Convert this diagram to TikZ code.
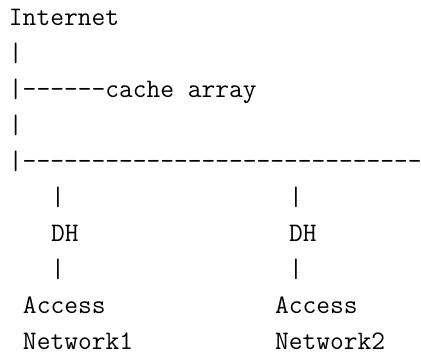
\documentclass[tikz,border=0pt]{standalone}
\usepackage{fontspec}
\begin{document}
\begin{tikzpicture}[x=1pt,y=-1pt,
  tt/.style={anchor=base west,inner sep=0pt,outer sep=0pt,text depth=0pt,
    font=\fontsize{26.7}{32}\selectfont\ttfamily},
  ]
% page frame
\useasboundingbox (0,0) rectangle (421,354);
% column width and row pitch of the monospaced grid
\def\cw{14.0}
\def\rh{36.1}
\def\xo{9}
\def\yo{25}
% trunk
\node[tt] (inet)  at (\xo+0*\cw, \yo+0*\rh) {Internet};
\node[tt] (bar1)  at (\xo+0*\cw, \yo+1*\rh) {|};
\node[tt] (cache) at (\xo+0*\cw, \yo+2*\rh) {|------cache array};
\node[tt] (bar2)  at (\xo+0*\cw, \yo+3*\rh) {|};
\node[tt] (bus)   at (\xo+0*\cw, \yo+4*\rh) {|-----------------------------};
% left branch
\node[tt] (la)    at (\xo+3*\cw, \yo+5*\rh) {|};
\node[tt] (ldh)   at (\xo+3*\cw, \yo+6*\rh) {DH};
\node[tt] (lb)    at (\xo+3*\cw, \yo+7*\rh) {|};
\node[tt] (lacc)  at (\xo+1*\cw, \yo+8*\rh) {Access};
\node[tt] (lnet)  at (\xo+1*\cw, \yo+9*\rh) {Network1};
% right branch
\node[tt] (ra)    at (\xo+20*\cw, \yo+5*\rh) {|};
\node[tt] (rdh)   at (\xo+20*\cw, \yo+6*\rh) {DH};
\node[tt] (rb)    at (\xo+20*\cw, \yo+7*\rh) {|};
\node[tt] (racc)  at (\xo+19*\cw, \yo+8*\rh) {Access};
\node[tt] (rnet)  at (\xo+19*\cw, \yo+9*\rh) {Network2};
\end{tikzpicture}
\end{document}
